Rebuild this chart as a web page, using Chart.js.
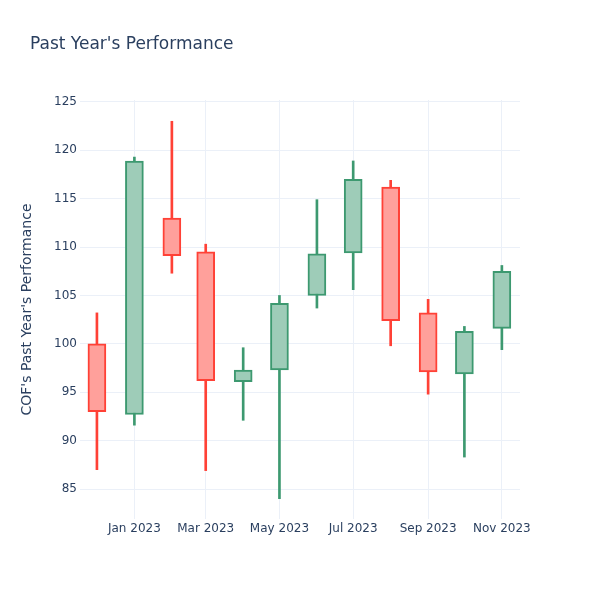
<!DOCTYPE html>
<html>
<head>
<meta charset="utf-8">
<script src="https://cdn.jsdelivr.net/npm/chart.js@4"></script>
<style>
  body { margin: 0; background: #fff; }
  #wrap { width: 600px; height: 600px; }
</style>
</head>
<body>
<div id="wrap"><canvas id="myChart" width="600" height="600"></canvas></div>
<script>
// monthly candles, COF
var dates = ["2022-12-01", "2023-01-01", "2023-02-01", "2023-03-01", "2023-04-01", "2023-05-01",
             "2023-06-01", "2023-07-01", "2023-08-01", "2023-09-01", "2023-10-01", "2023-11-01"];
var open  = [100.0, 92.7, 113.0, 109.5, 96.1, 97.3, 105.0, 109.4, 116.2, 103.2, 96.9, 101.6];
var high  = [103.2, 119.3, 123.0, 110.3, 99.6, 105.0, 114.9, 118.9, 116.9, 104.6, 101.8, 108.1];
var low   = [87.0, 91.6, 107.3, 86.9, 92.1, 84.0, 103.7, 105.6, 99.8, 94.8, 88.3, 99.4];
var close = [93.0, 118.9, 109.1, 96.2, 97.3, 104.2, 109.3, 117.0, 102.4, 97.1, 101.3, 107.5];

var tickDates  = ["2023-01-01", "2023-03-01", "2023-05-01", "2023-07-01", "2023-09-01", "2023-11-01"];
var tickLabels = ["Jan 2023", "Mar 2023", "May 2023", "Jul 2023", "Sep 2023", "Nov 2023"];

var upLine = "#3D9970", upFill = "#9ECCB8";
var downLine = "#FF4136", downFill = "#FFA09B";
var textColor = "#2a3f5f", gridColor = "#ebf0f8";
var fontFamily = "'DejaVu Sans', Verdana, sans-serif";

function day(s) { return Date.parse(s) / 86400000; }
function isUp(i) { return close[i] >= open[i]; }

var lineColors = dates.map(function (d, i) { return isUp(i) ? upLine : downLine; });
var fillColors = dates.map(function (d, i) { return isUp(i) ? upFill : downFill; });

var titlePlugin = {
   id: "plotTitle",
   afterDraw: function (chart) {
      var c = chart.ctx;
      c.save();
      c.font = "17px " + fontFamily;
      c.fillStyle = textColor;
      c.textAlign = "left";
      c.textBaseline = "middle";
      c.fillText("Past Year's Performance", 30, 45);
      c.restore();
   }
};

var ctx = document.getElementById("myChart").getContext("2d");
var myChart = new Chart(ctx, {
   type: "bar",
   data: {
      datasets: [{
         label: "wick",
         data: dates.map(function (d, i) { return { x: day(d), y: [low[i], high[i]] }; }),
         backgroundColor: lineColors,
         borderWidth: 0,
         barThickness: 2,
         grouped: false,
         order: 2
      }, {
         label: "body",
         data: dates.map(function (d, i) { return { x: day(d), y: [open[i], close[i]] }; }),
         backgroundColor: fillColors,
         borderColor: lineColors,
         borderWidth: 2,
         borderSkipped: false,
         barThickness: 18,
         grouped: false,
         order: 1
      }]
   },
   options: {
      responsive: false,
      animation: false,
      layout: { padding: { top: 100, left: 0, right: 80, bottom: 0 } },
      plugins: {
         legend: { display: false },
         title: { display: false },
         tooltip: { enabled: false }
      },
      scales: {
         x: {
            type: "linear",
            offset: false,
            min: day("2022-11-17"),
            max: day("2023-11-16"),
            afterBuildTicks: function (scale) {
               scale.ticks = tickDates.map(function (d) { return { value: day(d) }; });
            },
            afterFit: function (scale) { scale.height = 81; },
            ticks: {
               autoSkip: false,
               maxRotation: 0,
               padding: 3,
               color: textColor,
               font: { family: fontFamily, size: 12 },
               callback: function (v, i) { return tickLabels[i]; }
            },
            grid: { color: gridColor, drawTicks: false, offset: false },
            border: { display: false }
         },
         y: {
            min: 81.9,
            max: 125.2,
            afterFit: function (scale) { scale.width = 80; },
            ticks: {
               stepSize: 5,
               includeBounds: false,
               padding: 3,
               color: textColor,
               font: { family: fontFamily, size: 12 }
            },
            grid: { color: gridColor, drawTicks: false },
            border: { display: false },
            title: {
               display: true,
               text: "COF's Past Year's Performance",
               color: textColor,
               font: { family: fontFamily, size: 14 },
               padding: { top: 19, bottom: 0 }
            }
         }
      }
   },
   plugins: [titlePlugin]
});
</script>
</body>
</html>
